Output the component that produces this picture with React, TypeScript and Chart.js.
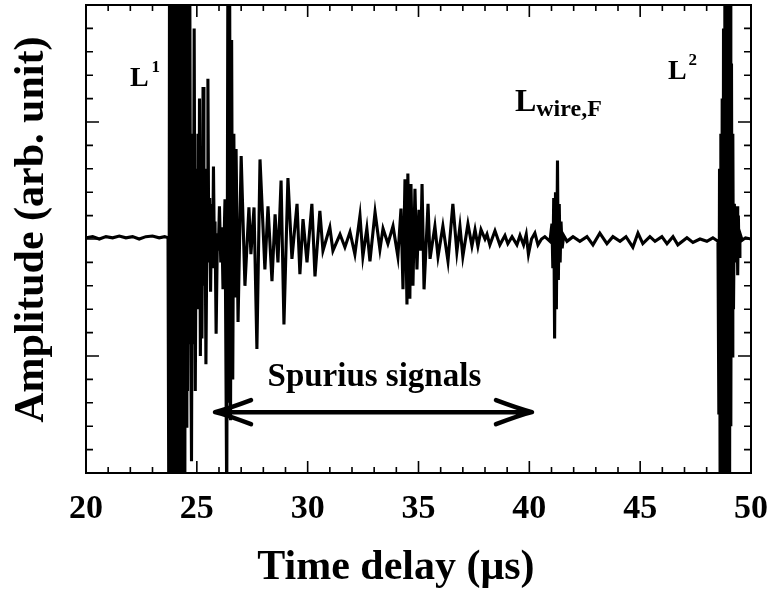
import React, { useEffect, useRef } from "react";
import { Chart, registerables } from "chart.js";

Chart.register(...registerables);

// ---- axes ----
const X_MIN = 20;
const X_MAX = 50;
const X_MINOR_STEP = 1;
const X_MAJOR_STEP = 5;
const Y_MIN = -2;
const Y_MAX = 2;
const Y_MINOR_STEP = 0.2;
const Y_MAJOR_STEP = 1;
const xTickValues = [20, 25, 30, 35, 40, 45, 50];
const xTitle = "Time delay (\u03bcs)";
const yTitle = "Amplitude (arb. unit)";

// ---- waveform segments: [time (µs), amplitude (arb.)] ----
const preTrigger: [number, number][] = [
  [20.0, 0.01], [20.3, 0.02], [20.6, 0.0], [20.9, 0.02], [21.2, 0.01], [21.5, 0.025],
  [21.8, 0.01], [22.1, 0.02], [22.4, 0.0], [22.7, 0.02], [23.0, 0.025], [23.3, 0.01],
  [23.55, 0.02], [23.7, 0.01],
];
const burstL1: [number, number][] = [
  [23.74, -2.6], [23.77, 2.8], [23.8, -3], [23.83, 3], [23.86, -3], [23.89, 3],
  [23.92, -3], [23.95, 3], [23.98, -3], [24.01, 3], [24.04, -3], [24.07, 3],
  [24.1, -3], [24.13, 3], [24.16, -3], [24.19, 3], [24.22, -3], [24.25, 3],
  [24.28, -3], [24.31, 3], [24.34, -2.9], [24.37, 3], [24.4, -2.4], [24.43, 3],
  [24.46, -2.1], [24.49, 3], [24.52, -1.6], [24.55, 2.8], [24.58, -1.3], [24.61, 2.6],
  [24.64, -0.9], [24.68, 2.4], [24.72, -0.6],
];
const ringdownL1: [number, number][] = [
  [24.76, -1.9], [24.8, 0.9], [24.84, -0.9], [24.88, 1.8], [24.93, -1.3], [24.98, 0.6],
  [25.01, -0.3], [25.05, 0.9], [25.09, -0.6], [25.12, 1.2], [25.16, -1.0], [25.19, 0.4],
  [25.23, -0.85], [25.28, 1.3], [25.32, -0.4], [25.36, 0.6], [25.41, -1.07], [25.46, 0.2],
  [25.5, 1.37], [25.54, -0.2], [25.58, 0.35], [25.62, -0.45], [25.67, 0.3], [25.71, -0.25],
  [25.75, 0.62], [25.79, -0.1], [25.82, 0.15], [25.87, -0.81], [25.93, 0.05], [25.97, -0.1],
  [26.02, 0.28], [26.08, -0.2], [26.13, 0.1], [26.18, -0.43], [26.27, 0.34],
];
const spike26: [number, number][] = [
  [26.35, -2.3], [26.4, 2.3], [26.44, -1.4], [26.48, 2.3], [26.52, -1.55], [26.57, 1.7],
  [26.62, -1.2], [26.67, 0.9], [26.72, -0.5], [26.77, 0.77], [26.86, -0.71],
];
const spuriousRinging: [number, number][] = [
  [27.0, 0.71], [27.17, -0.4], [27.35, 0.27], [27.44, -0.13], [27.58, 0.27], [27.71, -0.94],
  [27.85, 0.68], [28.07, -0.26], [28.21, 0.28], [28.39, -0.36], [28.53, 0.21], [28.66, -0.2],
  [28.8, 0.5], [28.93, -0.73], [29.11, 0.52], [29.29, -0.17], [29.52, 0.3], [29.65, -0.3],
  [29.79, 0.17], [29.97, -0.2], [30.19, 0.3], [30.33, -0.32], [30.55, 0.24], [30.69, -0.1],
  [31.0, 0.1], [31.14, -0.1], [31.46, 0.04], [31.68, -0.07], [31.91, 0.06], [32.13, -0.13],
  [32.36, 0.2], [32.49, -0.15], [32.67, 0.09], [32.81, -0.19], [33.04, 0.23], [33.26, -0.09],
  [33.4, 0.09], [33.62, -0.04], [33.85, 0.11], [34.07, -0.15],
];
const burst35: [number, number][] = [
  [34.21, 0.26], [34.3, -0.43], [34.39, 0.51], [34.48, -0.56], [34.52, 0.56], [34.61, -0.51],
  [34.66, 0.47], [34.75, -0.4], [34.84, 0.43], [34.93, -0.26], [35.02, 0.25], [35.1, -0.1],
  [35.16, 0.47], [35.25, -0.43], [35.43, 0.3], [35.52, -0.17], [35.74, 0.11], [35.88, -0.15],
  [36.1, 0.11], [36.33, -0.19], [36.55, 0.3], [36.73, -0.11], [36.87, 0.11], [37.0, -0.15],
  [37.23, 0.13], [37.41, -0.06], [37.55, 0.08], [37.68, -0.06], [37.82, 0.08], [38.0, 0.0],
  [38.09, 0.04], [38.22, -0.05], [38.45, 0.07], [38.67, -0.05], [38.9, 0.03], [39.03, -0.04],
  [39.22, 0.02], [39.44, -0.05], [39.58, 0.03], [39.74, -0.05], [39.86, 0.04], [39.96, -0.13],
  [40.1, 0.0], [40.25, 0.05], [40.39, -0.05], [40.55, 0.0], [40.7, 0.02], [40.93, -0.02],
];
const wireEcho: [number, number][] = [
  [41.02, 0.13], [41.06, -0.25], [41.1, 0.35], [41.14, -0.85], [41.18, 0.4], [41.22, -0.6],
  [41.27, 0.67], [41.31, -0.35], [41.35, 0.3], [41.39, -0.2], [41.43, 0.15], [41.48, -0.08],
  [41.55, 0.03],
];
const quietTail: [number, number][] = [
  [41.7, -0.02], [41.97, 0.02], [42.28, -0.02], [42.6, 0.02], [42.87, -0.05], [43.18, 0.05],
  [43.5, -0.04], [43.77, 0.02], [44.09, -0.02], [44.36, 0.02], [44.67, -0.07], [44.9, 0.05],
  [45.12, -0.04], [45.44, 0.02], [45.67, -0.02], [45.98, 0.02], [46.21, -0.04], [46.48, 0.02],
  [46.7, -0.05], [47.11, 0.01], [47.38, -0.03], [47.7, 0.0], [48.01, -0.02], [48.28, 0.01],
  [48.51, -0.02],
];
const burstL2: [number, number][] = [
  [48.55, -1.5], [48.58, 0.6], [48.61, -2.5], [48.64, 0.9], [48.67, -3], [48.7, 1.2],
  [48.73, -3], [48.76, 1.8], [48.79, -3], [48.82, 3], [48.85, -3], [48.88, 3],
  [48.91, -3], [48.94, 3], [48.97, -3], [49.0, 3], [49.03, -3], [49.06, 2.5],
  [49.09, -1.6], [49.12, 1.5], [49.15, -1.0], [49.18, 0.9], [49.21, -0.6], [49.25, 0.3],
  [49.3, -0.2], [49.34, 0.1],
];
const afterL2: [number, number][] = [
  [49.37, 0.28], [49.4, -0.31], [49.43, 0.2], [49.46, -0.15], [49.5, 0.05], [49.6, -0.01],
  [49.75, 0.01], [50.0, 0.0],
];

const waveform = [
  ...preTrigger, ...burstL1, ...ringdownL1, ...spike26, ...spuriousRinging,
  ...burst35, ...wireEcho, ...quietTail, ...burstL2, ...afterL2,
];

// ---- annotations (data coordinates) ----
const labelL1 = { t: 21.98, v: 1.31, main: "L", script: "1" };
const labelL2 = { t: 46.25, v: 1.37, main: "L", script: "2" };
const labelWire = { t: 39.35, v: 1.09, main: "L", script: "wire,F" };
const spuriousText = { t: 33.01, v: -1.256, text: "Spurius signals" };
const spuriousArrow = { t0: 25.82, t1: 40.12, v: -1.48 };
const xTitlePos = { t: 33.98 };
const yTitlePos = { v: 0.08 };

const SERIF = '"Liberation Serif", "DejaVu Serif", serif';

const decorPlugin = {
  id: "decor",
  afterDraw(chart: any) {
    const { ctx } = chart;
    const { left, right, top, bottom } = chart.chartArea;
    const xs = chart.scales.x;
    const ys = chart.scales.y;
    ctx.save();
    ctx.strokeStyle = "#000";
    ctx.fillStyle = "#000";
    ctx.lineWidth = 2;
    ctx.strokeRect(left, top, right - left, bottom - top);

    ctx.lineWidth = 1.6;
    ctx.beginPath();
    const nx = Math.round((X_MAX - X_MIN) / X_MINOR_STEP);
    for (let i = 0; i <= nx; i++) {
      const v = X_MIN + i * X_MINOR_STEP;
      const r = v / X_MAJOR_STEP;
      const major = Math.abs(r - Math.round(r)) < 1e-6;
      const len = major ? 12 : 6;
      const px = xs.getPixelForValue(v);
      ctx.moveTo(px, bottom);
      ctx.lineTo(px, bottom - len);
      ctx.moveTo(px, top);
      ctx.lineTo(px, top + len);
    }
    const ny = Math.round((Y_MAX - Y_MIN) / Y_MINOR_STEP);
    for (let i = 0; i <= ny; i++) {
      const v = Y_MIN + i * Y_MINOR_STEP;
      const r = v / Y_MAJOR_STEP;
      const major = Math.abs(r - Math.round(r)) < 1e-6;
      const len = major ? 13 : 7;
      const py = ys.getPixelForValue(v);
      ctx.moveTo(left, py);
      ctx.lineTo(left + len, py);
      ctx.moveTo(right, py);
      ctx.lineTo(right - len, py);
    }
    ctx.stroke();

    // axis titles
    ctx.font = `bold 42px ${SERIF}`;
    ctx.textAlign = "center";
    ctx.textBaseline = "middle";
    ctx.fillText(xTitle, xs.getPixelForValue(xTitlePos.t), bottom + 95);
    ctx.save();
    ctx.translate(left - 54, ys.getPixelForValue(yTitlePos.v));
    ctx.rotate(-Math.PI / 2);
    ctx.fillText(yTitle, 0, 0);
    ctx.restore();

    // labels with super/subscripts
    ctx.textAlign = "left";
    ctx.textBaseline = "alphabetic";
    const drawScripted = (lab: any, mainSize: number, scriptSize: number, dx: number, dy: number) => {
      const x = xs.getPixelForValue(lab.t);
      const y = ys.getPixelForValue(lab.v);
      ctx.font = `bold ${mainSize}px ${SERIF}`;
      ctx.fillText(lab.main, x, y);
      const w = ctx.measureText(lab.main).width;
      ctx.font = `bold ${scriptSize}px ${SERIF}`;
      ctx.fillText(lab.script, x + w + dx, y + dy);
    };
    drawScripted(labelL1, 28, 17, 3, -14);
    drawScripted(labelL2, 28, 17, 2, -14);
    drawScripted(labelWire, 32, 24, 0, 5);

    ctx.font = `bold 33px ${SERIF}`;
    ctx.textAlign = "center";
    ctx.fillText(spuriousText.text, xs.getPixelForValue(spuriousText.t), ys.getPixelForValue(spuriousText.v));

    // double-headed arrow
    const ax0 = xs.getPixelForValue(spuriousArrow.t0);
    const ax1 = xs.getPixelForValue(spuriousArrow.t1);
    const ay = ys.getPixelForValue(spuriousArrow.v);
    ctx.lineWidth = 4.5;
    ctx.lineCap = "round";
    ctx.lineJoin = "round";
    ctx.beginPath();
    ctx.moveTo(ax0 + 2, ay);
    ctx.lineTo(ax1 - 2, ay);
    ctx.moveTo(ax0 + 36, ay - 12);
    ctx.quadraticCurveTo(ax0 + 12, ay - 3, ax0, ay);
    ctx.quadraticCurveTo(ax0 + 12, ay + 3, ax0 + 36, ay + 12);
    ctx.moveTo(ax1 - 36, ay - 12);
    ctx.quadraticCurveTo(ax1 - 12, ay - 3, ax1, ay);
    ctx.quadraticCurveTo(ax1 - 12, ay + 3, ax1 - 36, ay + 12);
    ctx.stroke();
    ctx.restore();
  },
};

export default function App() {
  const canvasRef = useRef<HTMLCanvasElement | null>(null);

  useEffect(() => {
    document.body.style.margin = "0";
    const canvas = canvasRef.current;
    if (!canvas) return;
    const chart = new Chart(canvas, {
      type: "line",
      data: {
        datasets: [
          {
            data: waveform.map(([t, v]) => ({ x: t, y: v })),
            borderColor: "#000",
            borderWidth: 3.1,
            pointRadius: 0,
            tension: 0,
            fill: false,
          },
        ],
      },
      options: {
        responsive: false,
        maintainAspectRatio: false,
        devicePixelRatio: 1,
        animation: false,
        layout: { padding: { top: 5, right: 19, left: 0, bottom: 0 } },
        plugins: { legend: { display: false }, tooltip: { enabled: false } },
        scales: {
          x: {
            type: "linear",
            min: X_MIN,
            max: X_MAX,
            grid: { display: false, drawTicks: false },
            border: { display: false },
            afterBuildTicks: (scale: any) => {
              scale.ticks = xTickValues.map((v) => ({ value: v }));
            },
            afterFit: (scale: any) => {
              scale.height = 127;
              scale.paddingLeft = 0;
              scale.paddingRight = 0;
            },
            ticks: {
              autoSkip: false,
              maxRotation: 0,
              padding: 16,
              color: "#000",
              font: { family: SERIF, size: 34, weight: "bold" },
            },
            title: { display: false },
          },
          y: {
            type: "linear",
            min: Y_MIN,
            max: Y_MAX,
            grid: { display: false, drawTicks: false },
            border: { display: false },
            ticks: { display: false },
            afterFit: (scale: any) => {
              scale.width = 86;
              scale.paddingTop = 0;
              scale.paddingBottom = 0;
            },
            title: { display: false },
          },
        },
      },
      plugins: [decorPlugin],
    } as any);
    return () => chart.destroy();
  }, []);

  return (
    <div style={{ width: 770, height: 600 }}>
      <canvas ref={canvasRef} width={770} height={600} style={{ display: "block" }} />
    </div>
  );
}
